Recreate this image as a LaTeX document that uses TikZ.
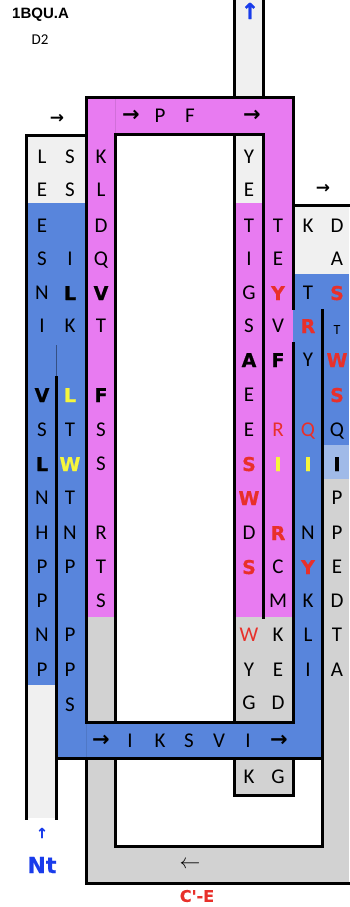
\documentclass[tikz,border=0pt]{standalone}
\usepackage{fontspec}
\setmainfont{Carlito}
\newfontfamily\hv{Liberation Sans}
\newfontfamily\dv{DejaVu Sans}
\newfontfamily\dvb{DejaVu Sans Bold}[FakeBold=0.6]
\definecolor{pinkc}{RGB}{232,123,241}
\definecolor{bluec}{RGB}{88,133,220}
\definecolor{lblue}{RGB}{160,186,232}
\definecolor{lgrey}{RGB}{240,240,240}
\definecolor{mgrey}{RGB}{210,210,210}
\definecolor{redc}{RGB}{232,48,42}
\definecolor{yelc}{RGB}{246,246,60}
\definecolor{ntblue}{RGB}{25,60,235}
\begin{document}
\begin{tikzpicture}[x=1pt,y=-1pt,
  bd/.style={line width=3pt,line cap=rect,line join=miter},
  cell/.style={anchor=base,inner sep=0pt,yshift=-6.8pt,font=\fontsize{21}{21}\selectfont},
  nrm/.style={},
  bld/.style={yshift=-0.2pt,font=\dvb\fontsize{19}{19}\selectfont},
  rbd/.style={bld,text=redc},
  ybd/.style={bld,text=yelc},
  rnm/.style={text=redc},
  sml/.style={font=\fontsize{14}{14}\selectfont,yshift=2pt},
  arw/.style={anchor=center,inner sep=0pt,font=\dv\bfseries\fontsize{21}{21}\selectfont}]
\useasboundingbox (0,0) rectangle (349,907);
% fills
\fill[lgrey] (234,0) rectangle (263,97);
\fill[pinkc] (86,97) rectangle (293,134);
\fill[pinkc] (86,134) rectangle (115,617);
\fill[mgrey] (86,617) rectangle (115,722);
\fill[lgrey] (234,134) rectangle (263,203);
\fill[pinkc] (234,203) rectangle (293,617);
\fill[pinkc] (263,134) rectangle (293,203);
\fill[mgrey] (234,617) rectangle (293,722);
\fill[lgrey] (26,135) rectangle (86,203);
\fill[bluec] (26,203) rectangle (86,685);
\fill[lgrey] (26,685) rectangle (56,818);
\fill[bluec] (56,685) rectangle (86,758);
\fill[bluec] (56,722) rectangle (322,758);
\fill[lgrey] (293,205) rectangle (349,274);
\fill[bluec] (293,274) rectangle (349,445);
\fill[bluec] (293,445) rectangle (322,722);
\fill[lblue] (322,445) rectangle (349,479);
\fill[mgrey] (322,479) rectangle (349,883);
\fill[mgrey] (86,758) rectangle (115,883);
\fill[mgrey] (115,846) rectangle (349,883);
\fill[mgrey] (234,758) rectangle (293,795);
% faint lines
\draw[pinkc!90!black,line width=0.4pt] (115,98) -- (115,133);
\draw[bluec!90!black,line width=0.4pt] (86,723) -- (86,757);
\draw[bluec!60!black,line width=0.6pt] (56,345) -- (56,377);
% borders
\draw[bd] (234,0) -- (234,97);
\draw[bd] (263,0) -- (263,97);
\draw[bd] (86,722) -- (86,97) -- (293,97) -- (293,308);
\draw[bd] (293,343) -- (293,722);
\draw[bd] (115,722) -- (115,134) -- (263,134) -- (263,617);
\draw[bd] (234,134) -- (234,722);
\draw[bd] (86,722) -- (293,722);
\draw[bd] (26,818) -- (26,135) -- (86,135);
\draw[bd] (56,377) -- (56,818);
\draw[bd] (56,758) -- (322,758);
\draw[bd] (322,310) -- (322,846);
\draw[bd] (293,205) -- (349,205);
\draw[bd] (86,758) -- (86,883) -- (349,883);
\draw[bd] (115,758) -- (115,846) -- (322,846);
\draw[bd] (234,758) -- (234,795) -- (293,795) -- (293,758);
% titles
\node[anchor=west,inner sep=0pt,font=\hv\bfseries\fontsize{15}{15}\selectfont] (title) at (12,15) {1BQU.A};
\node[inner sep=0pt,font=\fontsize{15}{15}\selectfont] (dom) at (40,40) {D2};
% arrows
\node[arw,text=ntblue,font=\dvb\fontsize{22}{22}\selectfont] (topup) at (250,11) {↑};
\node[arw,font=\dv\bfseries\fontsize{17}{17}\selectfont] (a1) at (57,119) {→};
\node[arw] (a2) at (131,116) {→};
\node[arw] (a3) at (252,116) {→};
\node[arw,font=\dv\bfseries\fontsize{17}{17}\selectfont] (a4) at (323,189) {→};
\node[arw] (a5) at (101,741) {→};
\node[arw] (a6) at (279,741) {→};
\node[anchor=center,inner sep=0pt,font=\fontsize{22}{22}\selectfont] (a7) at (190,865) {$\leftarrow$};
\node[arw,text=ntblue,font=\dvb\fontsize{14}{14}\selectfont] (ntup) at (42,833) {↑};
\node[inner sep=0pt,text=ntblue,font=\dvb\fontsize{22}{22}\selectfont] (nt) at (42,865) {Nt};
\node[inner sep=0pt,text=redc,font=\dvb\fontsize{16}{16}\selectfont] (ce) at (197,896) {C'-E};
% top bar and bottom bar letters
\foreach \x/\t [count=\i] in {160/P,190/F} \node[cell] (tb\i) at (\x,116) {\t};
\foreach \x/\t [count=\i] in {130/I,160/K,189/S,219/V,248/I} \node[cell] (bb\i) at (\x,741) {\t};
% columns
\foreach \y/\t/\s [count=\i] in {157/L/nrm,190/E/nrm,226/E/nrm,259/S/nrm,293/N/nrm,326/I/nrm,395/V/bld,430/S/nrm,464/L/bld,498/N/nrm,533/H/nrm,567/P/nrm,601/P/nrm,635/N/nrm,670/P/nrm}
  \node[cell,\s] (ca\i) at (42,\y) {\t};
\foreach \y/\t/\s [count=\i] in {157/S/nrm,190/S/nrm,259/I/nrm,293/L/bld,326/K/nrm,395/L/ybd,430/T/nrm,464/W/ybd,498/T/nrm,533/N/nrm,567/P/nrm,635/P/nrm,670/P/nrm,705/S/nrm}
  \node[cell,\s] (cb\i) at (70,\y) {\t};
\foreach \y/\t/\s [count=\i] in {157/K/nrm,190/L/nrm,226/D/nrm,259/Q/nrm,293/V/bld,326/T/nrm,395/F/bld,430/S/nrm,464/S/nrm,533/R/nrm,567/T/nrm,601/S/nrm}
  \node[cell,\s] (cc\i) at (101,\y) {\t};
\foreach \y/\t/\s [count=\i] in {157/Y/nrm,190/E/nrm,226/T/nrm,259/I/nrm,293/G/nrm,326/S/nrm,360/A/bld,395/E/nrm,430/E/nrm,464/S/rbd,498/W/rbd,533/D/nrm,567/S/rbd,635/W/rnm,670/Y/nrm,703/G/nrm,777/K/nrm}
  \node[cell,\s] (cd\i) at (249,\y) {\t};
\foreach \y/\t/\s [count=\i] in {226/T/nrm,259/E/nrm,293/Y/rbd,326/V/nrm,360/F/bld,430/R/rnm,464/I/ybd,533/R/rbd,567/C/nrm,601/M/nrm,635/K/nrm,670/E/nrm,703/D/nrm,777/G/nrm}
  \node[cell,\s] (ce\i) at (278,\y) {\t};
\foreach \y/\t/\s [count=\i] in {226/K/nrm,293/T/nrm,326/R/rbd,360/Y/nrm,430/Q/rnm,464/I/ybd,533/N/nrm,567/Y/rbd,601/K/nrm,635/L/nrm,670/I/nrm}
  \node[cell,\s] (cf\i) at (308,\y) {\t};
\foreach \y/\t/\s [count=\i] in {226/D/nrm,259/A/nrm,293/S/rbd,330/T/sml,360/W/rbd,395/S/rbd,430/Q/nrm,464/I/bld,498/P/nrm,533/P/nrm,567/E/nrm,601/D/nrm,635/T/nrm,670/A/nrm}
  \node[cell,\s] (cg\i) at (337,\y) {\t};
\end{tikzpicture}
\end{document}
